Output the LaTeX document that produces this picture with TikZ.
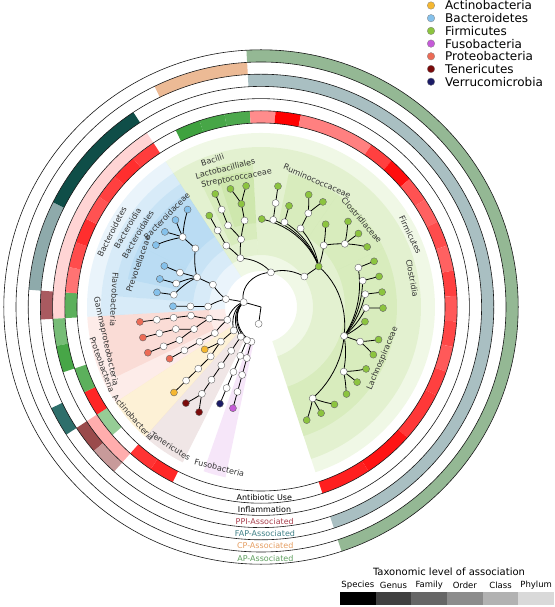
\documentclass[tikz,border=0pt]{standalone}
\usepackage{fontspec}
\setmainfont{DejaVu Sans}
\usepackage{xcolor}
\usepackage{tikz}
\usetikzlibrary{calc}
\usetikzlibrary{backgrounds}
\definecolor{firm}{HTML}{8CC43F}
\definecolor{bact}{HTML}{85C1EB}
\definecolor{prot}{HTML}{EC6B56}
\definecolor{acti}{HTML}{F5B731}
\definecolor{tene}{HTML}{7A0A0A}
\definecolor{verr}{HTML}{1B1B66}
\definecolor{fuso}{HTML}{C55AD8}
\definecolor{firmbg}{HTML}{8CC63F}
\definecolor{bactbg}{HTML}{5DADE2}
\definecolor{protbg}{HTML}{EC7058}
\definecolor{actibg}{HTML}{F5B731}
\definecolor{tenebg}{HTML}{8B3A3A}
\definecolor{fusobg}{HTML}{C55AD8}
\definecolor{decr}{HTML}{2E9A2E}
\definecolor{apgreen}{HTML}{94B894}
\definecolor{cptan}{HTML}{ECBA95}
\definecolor{fapgrey}{HTML}{A9BFC2}
\definecolor{fapmid}{HTML}{8EAAAB}
\definecolor{fapdark}{HTML}{0F4E48}
\definecolor{fapteal}{HTML}{2E6F6B}
\definecolor{ppimid}{HTML}{A95A60}
\definecolor{ppidark}{HTML}{9A4A4B}
\definecolor{ppilight}{HTML}{C89A9A}
\definecolor{ppitext}{HTML}{A8404E}
\definecolor{faptext}{HTML}{3F8086}
\definecolor{cptext}{HTML}{E59E62}
\definecolor{aptext}{HTML}{5E9E5E}

\newcommand{\branch}[2]{%
  \draw[cladeline] let \p1=(#1), \p2=(#2),
    \n1={atan2(\y1,\x1)}, \n2={mod(atan2(\y2,\x2)-(\n1)+540,360)-180},
    \n3={veclen(\x1,\y1)}, \n4={veclen(\x2,\y2)} in
    plot[domain=0:1, samples=12, variable=\t] ({\n1+\t*(\n2)}:{\n3+\t*(\n4-\n3)});}

\begin{document}
\begin{tikzpicture}[x=1pt, y=1pt,
  tnode/.style={circle, draw=black!60, line width=0.4pt, inner sep=0pt, minimum size=7pt},
  cladeline/.style={black, line width=0.8pt},
  ringline/.style={black!90, line width=0.6pt},
  cladelabel/.style={font=\fontsize{8}{9}\selectfont, text=black!80, inner sep=0pt},
  ringlabel/.style={font=\fontsize{8}{9}\selectfont, inner sep=0pt},
  legdot/.style={circle, draw=black!50, line width=0.3pt, inner sep=0pt, minimum size=7.5pt},
  legtext/.style={font=\fontsize{12}{14}\selectfont, anchor=west, inner sep=0pt}]
\useasboundingbox (-261,-300) rectangle (293,307);

\begin{scope}[on background layer]
\foreach \a/\b/\ri/\ro/\c/\o in {
    -71.75/123.25/36/174/firmbg/.13, 123.25/183.25/36/174/bactbg/.13,
    183.25/213.25/36/174/protbg/.13, 213.25/228.25/36/174/actibg/.2,
    228.25/243.25/36/174/tenebg/.13, 250.75/258.25/36/174/fusobg/.15,
    93.25/123.25/52/160/firmbg/.13, -71.75/93.25/52/160/firmbg/.13,
    123.25/175.75/52/160/bactbg/.13, 175.75/183.25/52/160/bactbg/.13,
    183.25/205.75/52/160/protbg/.13,
    93.25/115.75/68/147/firmbg/.13, 123.25/175.75/68/147/bactbg/.13,
    93.25/108.25/84/136/firmbg/.13, 55.75/78.25/84/136/firmbg/.13,
    25.75/55.75/84/136/firmbg/.13, -71.75/25.75/84/136/firmbg/.13,
    123.25/153.25/84/136/bactbg/.13, 153.25/168.25/84/136/bactbg/.13}
  \fill[\c, fill opacity=\o] (\a:\ri) arc[start angle=\a, end angle=\b, radius=\ri pt]
    -- (\b:\ro) arc[start angle=\b, end angle=\a, radius=\ro pt] -- cycle;
\end{scope}

% rings: antibiotic use (1) out to AP-associated (6)
\foreach \j/\ka/\kb/\c in {
    1/3/3/red!85, 1/4/4/red!80, 1/6/6/decr!50, 1/7/7/red!85, 1/8/8/decr!78, 1/11/11/decr!78,
    1/12/12/red!55, 1/13/13/red!70, 1/14/14/red!82, 1/15/15/red!68, 1/16/16/red!75,
    1/17/17/red!82, 1/18/18/red!76, 1/20/20/decr!92, 1/21/21/decr!88, 1/22/22/decr!85,
    1/23/23/red!45, 1/24/24/red, 1/25/27/red!50, 1/28/28/red!75, 1/29/29/red!95,
    1/30/30/red!68, 1/31/31/red!62, 1/32/32/red!70, 1/33/33/red!62, 1/34/34/red!75,
    1/35/35/red!65, 1/36/36/red!72, 1/37/37/red!65, 1/38/38/red!75, 1/39/40/red!78,
    1/41/42/red!92, 1/43/44/red!88,
    2/11/18/red!17, 2/10/10/decr!65, 2/9/9/decr!88, 2/5/6/red!32,
    3/11/11/ppimid, 3/6/6/ppidark, 3/5/5/ppilight,
    4/23/44/fapgrey, 4/12/14/fapmid, 4/15/18/fapdark, 4/7/7/fapteal,
    5/20/22/cptan, 6/23/44/apgreen}
{
  \pgfmathsetmacro\ta{258.25-7.5*\kb}
  \pgfmathsetmacro\tb{265.75-7.5*\ka}
  \pgfmathsetmacro\ri{171.8+12.2*\j}
  \pgfmathsetmacro\ro{\ri+12.2}
  \fill[\c] (\ta:\ri) arc[start angle=\ta, end angle=\tb, radius=\ri pt]
    -- (\tb:\ro) arc[start angle=\tb, end angle=\ta, radius=\ro pt] -- cycle;
}
\foreach \r in {184,196.2,208.4,220.6,232.8,245,257.2}
  \draw[ringline] (0,0) circle[radius=\r pt];
\foreach \j/\txt/\c in {1/Antibiotic Use/black, 2/Inflammation/black, 3/PPI-Associated/ppitext,
    4/FAP-Associated/faptext, 5/CP-Associated/cptext, 6/AP-Associated/aptext}
  \node[ringlabel, text=\c] (ring\j) at (271:{178+12.2*\j}) {\txt};

\coordinate (root) at (0,0);
\foreach \n/\a/\r/\c in {
    X/262/17/white, K/164.3/18/white,
    pFus/254.5/36/white, cFus/254.5/53/white, oFus/254.5/70.5/white, fFus/254.5/88/white, gFus/254.5/105/fuso,
    pVer/247/36/white, cVer/247/53/white, oVer/247/70.5/white, fVer/247/88/white, gVer/247/105/verr,
    pTen/235.75/36/white, cTen/235.75/53/white, oTen/235.75/70.5/white, fTen/235.75/88/white,
    gTen/235.75/105/white, sTen1/239.5/122/tene, sTen2/232/122/tene,
    pAct/220.75/36/white, cAct/220.75/53/white, oAct1/217/70.5/acti, oAct2/224.5/70.5/white,
    fAct/224.5/88/white, gAct/224.5/105/white, sAct/224.5/122/acti,
    pPro/201/36/white, cProA/192.6/53/white, oProA/187/70.5/white, fProA/187/88/white,
    gProA/187/105/white, sProA/187/122/prot, oProB/198.25/70.5/white, fProB1/194.5/88/white,
    gProB1/194.5/105/white, sProB1/194.5/122/prot, fProB2/202/88/white, gProB2/202/105/white,
    sProB2/202/122/prot, cProC/209.5/53/white, oProC/209.5/70.5/white, fProC/209.5/88/white,
    gProC/209.5/105/prot,
    pBac/167.3/36/white, cBact/155.1/53/white, oBact/155.1/70.5/white, fBacd/138.25/88/white,
    gBacd/138.25/105/white, sBac1/127/122/bact, sBac2/134.5/122/bact, sBac3/142/122/bact,
    sBac4/149.5/122/bact, fPre1/157/88/white, gPre1/157/105/bact, fPre2/164.5/88/white,
    gPre2/164.5/105/bact, fPre3/172/88/white, gPre3/172/105/bact,
    cFla/179.5/53/white, oFla/179.5/70.5/white, fFla/179.5/88/bact,
    pFir/74/36/white, cBaci/112.9/53/white, oLac1/119.5/70.5/white, fLac1/119.5/88/white,
    gLac1/119.5/105/firm, oLac2/106.4/70.5/white, fLac2/112/88/white, gLac2/112/105/white,
    sLac2/112/122/firm, fStr/100.75/88/white, gStr/100.75/105/firm, sStr1/104.5/122/firm,
    sStr2/97/122/firm, cClo/35.1/53/white, oClo/35.1/70.5/firm,
    fCl1/89.5/88/firm, fCl2/82/88/white, gCl2/82/105/white, sCl2/82/122/firm,
    fCl3/74.5/88/white, gCl3/74.5/105/firm, fCl4/63.25/88/white, gCl4/63.25/105/white,
    sCl4a/67/122/firm, sCl4b/59.5/122/firm, fCl5/44.5/88/white, gCl5a/52/105/firm,
    gCl5b/37/105/white, sCl5a/44.5/122/firm, sCl5b/37/122/firm, sCl5c/29.5/122/firm,
    fLach/-19.25/88/white, gLa1/22/105/white, sLa1/22/122/firm, gLa2/14.5/105/white,
    sLa2/14.5/122/firm, gLa3/7/105/white, sLa3/7/122/firm, gLa4/-0.5/105/white,
    sLa4/-0.5/122/firm, gLa5/-8/105/firm, gLa6/-19.25/105/white, sLa6a/-15.5/122/firm,
    sLa6b/-23/122/firm, gLa7/-38/105/white, sLa7a/-30.5/122/firm, sLa7b/-38/122/firm,
    sLa7c/-45.5/122/firm, gLa8/-60.5/105/white, sLa8a/-53/122/firm, sLa8b/-60.5/122/firm,
    sLa8c/-68/122/firm}
  \node[tnode, fill=\c] (\n) at (\a:\r) {};

\begin{scope}[on background layer]
\draw[cladeline] (root) -- (K);
\draw[cladeline] (root) -- (X);
\foreach \mom/\kid in {
    K/pFus, K/pVer, K/pTen, K/pAct, K/pPro, K/pBac, K/pFir,
    pFus/cFus, cFus/oFus, oFus/fFus, fFus/gFus,
    pVer/cVer, cVer/oVer, oVer/fVer, fVer/gVer,
    pTen/cTen, cTen/oTen, oTen/fTen, fTen/gTen, gTen/sTen1, gTen/sTen2,
    pAct/cAct, cAct/oAct1, cAct/oAct2, oAct2/fAct, fAct/gAct, gAct/sAct,
    pPro/cProA, pPro/cProC, cProA/oProA, oProA/fProA, fProA/gProA, gProA/sProA,
    cProA/oProB, oProB/fProB1, fProB1/gProB1, gProB1/sProB1, oProB/fProB2, fProB2/gProB2,
    gProB2/sProB2, cProC/oProC, oProC/fProC, fProC/gProC,
    pBac/cBact, pBac/cFla, cBact/oBact, oBact/fBacd, fBacd/gBacd, gBacd/sBac1, gBacd/sBac2,
    gBacd/sBac3, gBacd/sBac4, oBact/fPre1, fPre1/gPre1, oBact/fPre2, fPre2/gPre2,
    oBact/fPre3, fPre3/gPre3, cFla/oFla, oFla/fFla,
    pFir/cBaci, pFir/cClo, cBaci/oLac1, oLac1/fLac1, fLac1/gLac1, cBaci/oLac2, oLac2/fLac2,
    fLac2/gLac2, gLac2/sLac2, oLac2/fStr, fStr/gStr, gStr/sStr1, gStr/sStr2,
    cClo/oClo, oClo/fCl1, oClo/fCl2, fCl2/gCl2, gCl2/sCl2, oClo/fCl3, fCl3/gCl3,
    oClo/fCl4, fCl4/gCl4, gCl4/sCl4a, gCl4/sCl4b, oClo/fCl5, fCl5/gCl5a, fCl5/gCl5b,
    gCl5b/sCl5a, gCl5b/sCl5b, gCl5b/sCl5c, oClo/fLach, fLach/gLa1, gLa1/sLa1,
    fLach/gLa2, gLa2/sLa2, fLach/gLa3, gLa3/sLa3, fLach/gLa4, gLa4/sLa4, fLach/gLa5,
    fLach/gLa6, gLa6/sLa6a, gLa6/sLa6b, fLach/gLa7, gLa7/sLa7a, gLa7/sLa7b, gLa7/sLa7c,
    fLach/gLa8, gLa8/sLa8a, gLa8/sLa8b, gLa8/sLa8c}
  \branch{\mom}{\kid};
\end{scope}

\foreach \a/\r/\rot/\txt [count=\i] in {
    25.75/166/-64.25/Firmicutes, 10.75/154/-79.25/Clostridia,
    -23/132/67/Lachnospiraceae, 66/138/-24/Ruminococcaceae, 40.75/133/-49.25/Clostridiaceae,
    108.25/155/18.25/Bacilli, 104.5/143/14.5/Lactobacilliales, 100.75/131/10.75/Streptococcaceae,
    153.25/167/63.25/Bacteroidetes, 149.5/155/59.5/Bacteroidia, 149.5/143/59.5/Bacteroidales,
    160.75/130/70.75/Prevotellaceae, 136/131/46/Bacteroidaceae,
    177/147/-93/Flavobacteria, 200/169/-70/Proteobacteria,
    192.5/159/-77.5/Gammaproteobacteria, 221/169/-49/Actinobacteria,
    237/166/-33/Tenericutes, 255.5/166/-14.5/Fusobacteria}
  \node[cladelabel, rotate=\rot] (clade\i) at (\a:\r) {\txt};

\foreach \txt/\c [count=\i] in {Actinobacteria/acti, Bacteroidetes/bact, Firmicutes/firm,
    Fusobacteria/fuso, Proteobacteria/prot, Tenericutes/tene, Verrucomicrobia/verr} {
  \node[legdot, fill=\c] (dot\i) at (170,{301.5-12.7*(\i-1)}) {};
  \node[legtext] (leg\i) at (184,{301.5-12.7*(\i-1)}) {\txt};
}

\node[font=\fontsize{10}{12}\selectfont] (taxtitle) at (188,-265) {Taxonomic level of association};
\foreach \txt/\g [count=\i] in {Species/100, Genus/75, Family/60, Order/45, Class/30, Phylum/15} {
  \fill[black!\g] ({79+35.67*(\i-1)},-285) rectangle ++(35.67,-13);
  \node[font=\fontsize{8.5}{10}\selectfont] (lev\i) at ({79+35.67*(\i-0.5)},-278) {\txt};
}
\end{tikzpicture}
\end{document}
